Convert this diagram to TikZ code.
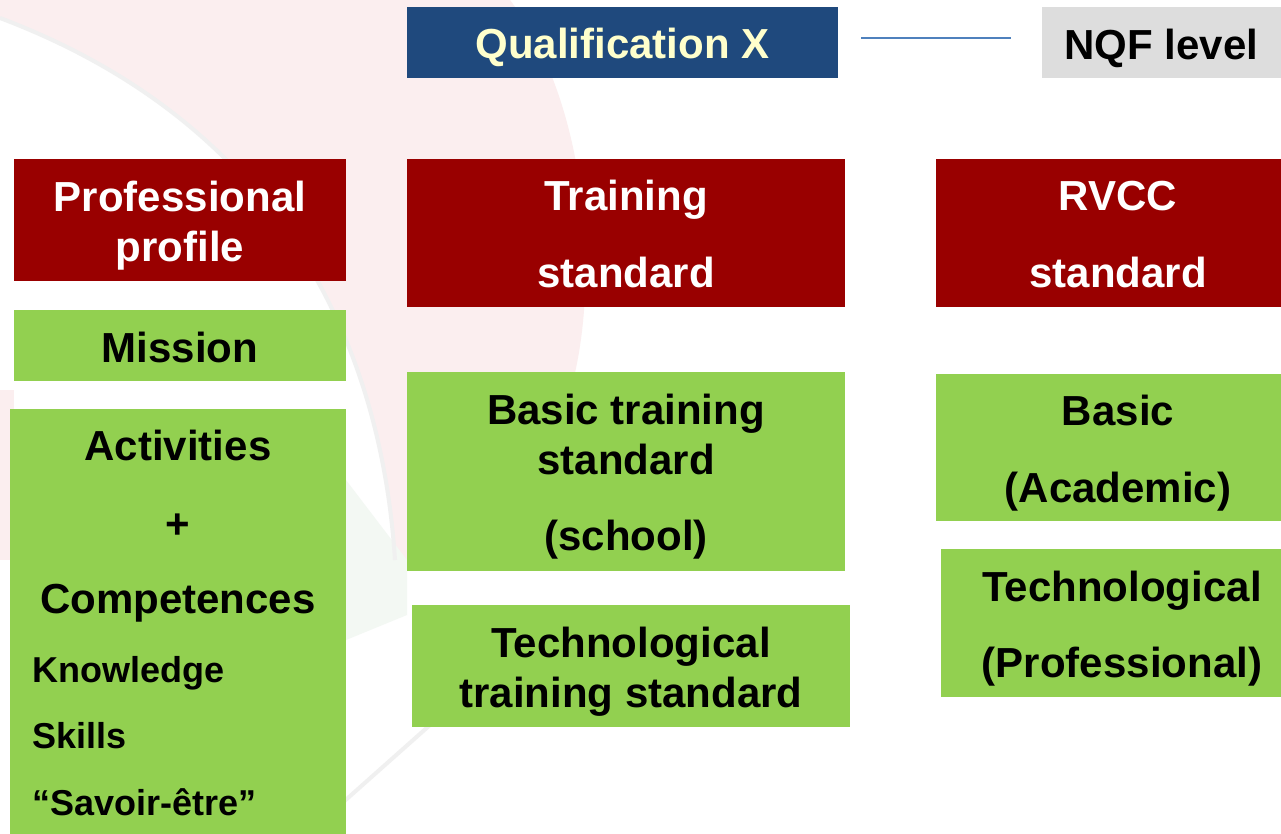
\documentclass[tikz,border=0pt]{standalone}
\usepackage{fontspec}
\setmainfont{Liberation Sans}
\definecolor{qblue}{HTML}{1F497D}
\definecolor{qyellow}{HTML}{FFFFCC}
\definecolor{dred}{HTML}{990000}
\definecolor{lgreen}{HTML}{92D050}
\definecolor{lgray}{HTML}{DDDDDD}
\definecolor{lineblue}{HTML}{4F81BD}
\definecolor{wmpink}{HTML}{FBEEEF}
\definecolor{wmgreen}{HTML}{F3F8F3}
\definecolor{wmshadow}{HTML}{F0F0F0}
\newcommand{\lift}[1]{\rule{0pt}{#1}}
\newcommand{\rs}[1]{\hspace*{#1}}
\begin{document}
\begin{tikzpicture}[x=1pt,y=-1pt,
  box/.style={anchor=north west,inner sep=0pt,outer sep=0pt,align=center,
    font=\bfseries\fontsize{42}{50}\selectfont},
  redbox/.style={box,fill=dred,text=white},
  greenbox/.style={box,fill=lgreen,text=black},
  itemtext/.style={inner sep=0pt,font=\bfseries\fontsize{42}{50}\selectfont},
  subitem/.style={inner sep=0pt,anchor=base west,font=\bfseries\fontsize{36}{44}\selectfont}]
\useasboundingbox (0,0) rectangle (1281,834);
\fill[white] (0,0) rectangle (1281,834);
% faint watermark
\fill[wmpink] (0,0) -- (510,0) .. controls (600,120) and (600,330) .. (560,420)
  .. controls (530,490) and (500,530) .. (470,570) -- (395,560)
  .. controls (380,330) and (270,120) .. (0,18) -- cycle;
\fill[wmpink] (0,390) rectangle (14,560);
\fill[wmgreen] (346,480) -- (407,560) -- (407,615) -- (346,640) -- cycle;
\draw[wmshadow,line width=4pt] (0,18) .. controls (270,120) and (380,330) .. (395,560);
\draw[wmshadow,line width=4pt] (430,725) -- (340,805);
% top row
\node[box,fill=qblue,text=qyellow,minimum width=431pt,minimum height=71pt] (qual) at (407,7) {\lift{41pt}Qualification X};
\node[box,fill=lgray,text=black,minimum width=239pt,minimum height=71pt] (nqf) at (1042,7) {\lift{42pt}NQF level};
\draw[lineblue,line width=1.5pt] ([xshift=23pt,yshift=4.5pt]qual.east) -- ([xshift=-31pt,yshift=4.5pt]nqf.west);
% red headers
\node[redbox,minimum width=332pt,minimum height=122pt] (prof) at (14,159) {\lift{41pt}Professional\\profile};
\node[redbox,minimum width=438pt,minimum height=148pt] (train) at (407,159) {\lift{33pt}Training\\[27pt]standard};
\node[redbox,minimum width=345pt,minimum height=148pt] (rvcc) at (936,159) {\rs{19pt}\lift{33pt}RVCC\\[27pt]\rs{19pt}standard};
% left column
\node[greenbox,minimum width=332pt,minimum height=71pt] (mission) at (14,310) {\lift{35pt}Mission};
\node[greenbox,minimum width=336pt,minimum height=425pt] (activ) at (10,409) {};
\node[itemtext,anchor=base] (act1) at (178,460) {Activities};
\node[itemtext,anchor=center] (act2) at (178,526) {+};
\node[itemtext,anchor=base] (act3) at (178,613) {Competences};
\node[subitem] (act4) at (32,682) {Knowledge};
\node[subitem] (act5) at (32,748) {Skills};
\node[subitem] (act6) at (32,815) {“Savoir-être”};
% middle column
\node[greenbox,minimum width=438pt,minimum height=199pt] (basictr) at (407,372) {\lift{41pt}Basic training\\standard\\[26pt](school)};
\node[greenbox,minimum width=438pt,minimum height=122pt] (techtr) at (412,605) {\lift{42pt}Technological\\training standard};
% right column
\node[greenbox,minimum width=345pt,minimum height=147pt] (basicac) at (936,374) {\rs{19pt}\lift{41pt}Basic\\[27pt]\rs{19pt}(Academic)};
\node[greenbox,minimum width=340pt,minimum height=148pt] (techpro) at (941,549) {\rs{22pt}\lift{42pt}Technological\\[26pt]\rs{22pt}(Professional)};
\end{tikzpicture}
\end{document}
